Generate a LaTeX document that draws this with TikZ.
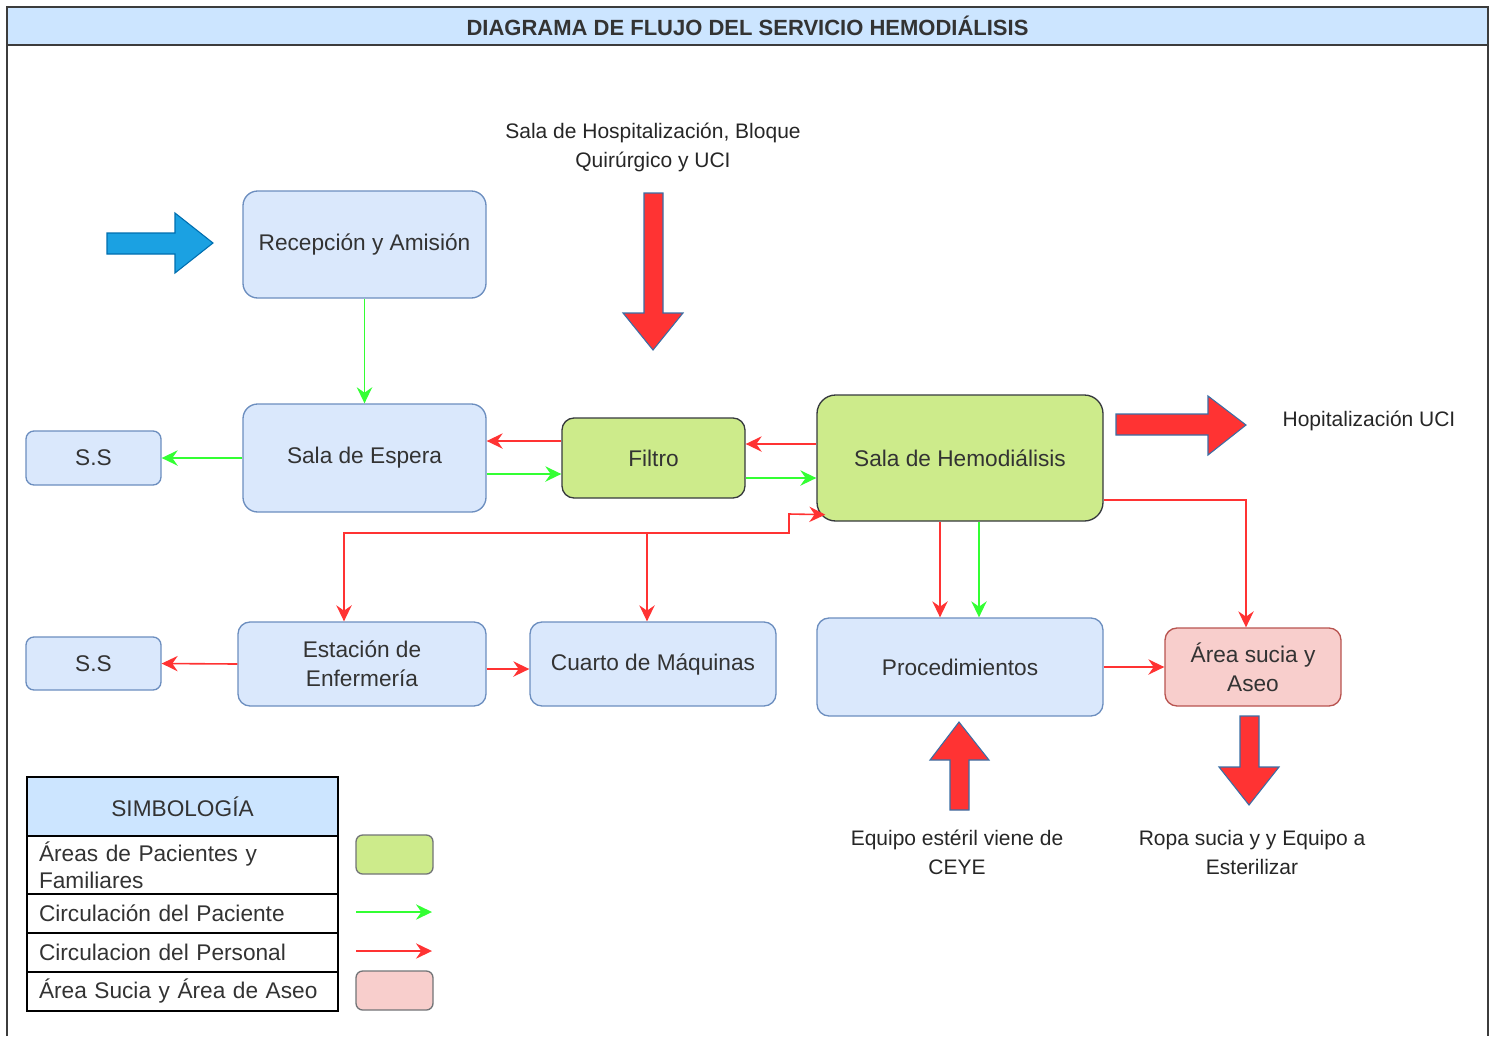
\documentclass[tikz,border=0pt]{standalone}
\usepackage{fontspec}
\setmainfont{Liberation Sans}
\usetikzlibrary{arrows.meta,calc}
\definecolor{nbFill}{HTML}{DAE8FC}
\definecolor{nbStroke}{HTML}{6C8EBF}
\definecolor{ngFill}{HTML}{CDEB8B}
\definecolor{ngStroke}{HTML}{36393D}
\definecolor{npFill}{HTML}{F8CECC}
\definecolor{npStroke}{HTML}{B85450}
\definecolor{titleFill}{HTML}{CCE5FF}
\definecolor{eGreen}{HTML}{33FF33}
\definecolor{eRed}{HTML}{FF3333}
\definecolor{bigRed}{HTML}{FF3333}
\definecolor{bigRedStroke}{HTML}{3A6EA5}
\definecolor{bigBlue}{HTML}{1BA1E2}
\definecolor{bigBlueStroke}{HTML}{006EAF}
\definecolor{txt}{HTML}{333333}
\definecolor{frameGray}{HTML}{3C3C3C}
\newcommand{\nodefont}{\fontsize{17}{21.75}\selectfont}
\newcommand{\lblfont}{\fontsize{15.75}{21.75}\selectfont}
\newcommand{\legfont}{\fontsize{17}{20}\selectfont}
\begin{document}
\begin{tikzpicture}[x=0.75pt,y=-0.75pt,
  box/.style={rectangle, rounded corners=9pt, draw=nbStroke, fill=nbFill, line width=1pt,
    text=txt, font=\nodefont, align=center, inner sep=0pt},
  gbox/.style={box, draw=ngStroke, fill=ngFill},
  pbox/.style={box, draw=npStroke, fill=npFill},
  lbl/.style={font=\lblfont, align=center, text=black!85, inner sep=0pt},
  tip/.tip={Stealth[length=12pt,width=11.5pt,inset=4pt]},
  garr/.style={draw=eGreen, line width=1.2pt, -tip},
  rarr/.style={draw=eRed, line width=1.2pt, -tip},
  bigred/.style={fill=bigRed, draw=bigRedStroke, line width=0.8pt, line join=miter},
  bigblue/.style={fill=bigBlue, draw=bigBlueStroke, line width=0.8pt, line join=miter},
  legrow/.style={rectangle, anchor=north west, draw=black, line width=1.5pt, fill=white,
    minimum width=233.25pt, text width=215.25pt, inner xsep=9pt, inner ysep=0pt,
    align=left, font=\legfont, text=txt},
  swatch/.style={rectangle, rounded corners=5pt, line width=1pt, minimum width=57.75pt, minimum height=29.25pt}
]
\useasboundingbox (0,0) rectangle (1494,1036);

% frame and title bar
\draw[line width=1.5pt, draw=frameGray] (7,1036) -- (7,7) -- (1488,7) -- (1488,1036);
\node[rectangle, draw=frameGray, fill=titleFill, line width=1.5pt, minimum width=1110.75pt,
  minimum height=28.5pt, inner sep=0pt, font=\fontsize{16.5}{19}\selectfont\bfseries, text=black!80]
  (title) at (747.5,26) {DIAGRAMA DE FLUJO DEL SERVICIO HEMODIÁLISIS};

% nodes
\node[box, minimum width=182.25pt, minimum height=80.25pt, rounded corners=11pt] (rec) at (364.5,244.5) {Recepción y Amisión};
\node[box, minimum width=182.25pt, minimum height=81pt, rounded corners=11pt] (esp) at (364.5,458) {Sala de Espera};
\node[box, minimum width=101.25pt, minimum height=40.5pt, rounded corners=6pt] (ssa) at (93.5,458) {S.S};
\node[gbox, minimum width=137.25pt, minimum height=60pt] (fil) at (653.5,458) {Filtro};
\node[gbox, minimum width=214.5pt, minimum height=94.5pt, rounded corners=14pt] (hem) at (960,458) {Sala de Hemodiálisis};
\node[box, minimum width=186pt, minimum height=63pt] (est) at (362,664) {Estación de\\Enfermería};
\node[box, minimum width=101.25pt, minimum height=39.75pt, rounded corners=6pt] (ssb) at (93.5,663.5) {S.S};
\node[box, minimum width=184.5pt, minimum height=63pt] (cua) at (653,664) {Cuarto de Máquinas};
\node[box, minimum width=214.5pt, minimum height=73.5pt] (pro) at (960,667) {Procedimientos};
\node[pbox, minimum width=132pt, minimum height=58.5pt] (are) at (1253,667) {Área sucia y\\Aseo};

% labels
\node[lbl] (lhosp) at (653,147) {Sala de Hospitalización, Bloque\\Quirúrgico y UCI};
\node[lbl] (luci) at (1369,421) {Hopitalización UCI};
\node[lbl] (lceye) at (957,852) {Equipo estéril viene de\\CEYE};
\node[lbl] (lropa) at (1252,852) {Ropa sucia y y Equipo a\\Esterilizar};

% big block arrows
\filldraw[bigblue] (107,233) -- (175,233) -- (175,213) -- (213,243) -- (175,273) -- (175,254) -- (107,254) -- cycle;
\filldraw[bigred] (644,193) -- (663,193) -- (663,313) -- (683,313) -- (653,350) -- (623,313) -- (644,313) -- cycle;
\filldraw[bigred] (1116,414) -- (1208,414) -- (1208,396) -- (1246,425) -- (1208,455) -- (1208,435) -- (1116,435) -- cycle;
\filldraw[bigred] (950,810) -- (950,760) -- (930,760) -- (959,722) -- (989,760) -- (969,760) -- (969,810) -- cycle;
\filldraw[bigred] (1240,716) -- (1259,716) -- (1259,767) -- (1279,767) -- (1249,805) -- (1219,767) -- (1240,767) -- cycle;

% connectors
\draw[garr] (rec.south) -- (esp.north);
\draw[garr] (esp.west) -- (ssa.east);
\draw[rarr] ([yshift=12.75pt]fil.west) -- ([yshift=12.75pt]esp.east);
\draw[garr] ([yshift=-12pt]esp.east) -- ([yshift=-12pt]fil.west);
\draw[rarr] ([yshift=10.5pt]hem.west) -- ([yshift=10.5pt]fil.east);
\draw[garr] ([yshift=-15pt]fil.east) -- ([yshift=-15pt]hem.west);

\coordinate (j1) at (344,533);
\coordinate (j2) at (647,533);
\coordinate (j3) at (789,533);
\coordinate (j4) at (789,514);
\draw[rarr, tip-tip]
  ([xshift=-13.5pt]est.north) -- (j1) -- (j3) -- (j4) -- ([xshift=6.75pt,yshift=5.25pt]hem.south west);
\draw[rarr] (j2) -- ([xshift=-4.5pt]cua.north);

\draw[rarr] ([xshift=-15pt]hem.south) -- ([xshift=-15pt]pro.north);
\draw[garr] ([xshift=14.25pt]hem.south) -- ([xshift=14.25pt]pro.north);
\draw[rarr] ([yshift=-31.5pt]hem.east) -| ([xshift=-5.25pt]are.north);
\draw[rarr] (est.west) -- (ssb.east);
\draw[rarr] ([yshift=-3.75pt]est.east) -- ([yshift=-3.75pt]cua.west);
\draw[rarr] (pro.east) -- (are.west);

% legend
\node[legrow, fill=titleFill, align=center, minimum height=44.25pt] (lhead) at (26,776) {SIMBOLOGÍA};
\node[legrow, minimum height=43.5pt] (lrow1) at (26,835) {Áreas de Pacientes y\\Familiares};
\node[legrow, minimum height=29.25pt] (lrow2) at (26,893) {Circulación del Paciente};
\node[legrow, minimum height=29.25pt] (lrow3) at (26,932) {Circulacion del Personal};
\node[legrow, minimum height=29.25pt] (lrow4) at (26,971) {Área Sucia y Área de Aseo};
\node[swatch, draw=ngStroke!70, fill=ngFill] (swg) at (394.5,854.5) {};
\node[swatch, draw=ngStroke!70, fill=npFill] (swp) at (394.5,990.5) {};
\coordinate (lga) at (356,912);
\coordinate (lgb) at (432,912);
\coordinate (lra) at (356,951);
\coordinate (lrb) at (432,951);
\draw[garr] (lga) -- (lgb);
\draw[rarr] (lra) -- (lrb);
\end{tikzpicture}
\end{document}
